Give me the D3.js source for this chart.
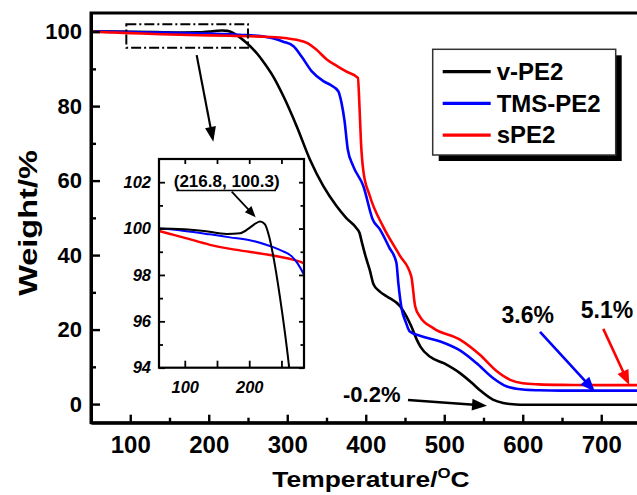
<!DOCTYPE html>
<html>
<head>
<meta charset="utf-8">
<script src="https://cdn.jsdelivr.net/npm/d3@7"></script>
<style>
  html, body { margin: 0; padding: 0; background: #fff; }
  svg text { font-family: Arial, "Liberation Sans", Helvetica, sans-serif; font-weight: bold; fill: #000; }
</style>
</head>
<body>
<svg id="chart" width="637" height="495"></svg>
<script>
// TGA curves: [temperature (°C), weight (%)]
const vPE2 = [[50,100],[60,100],[100,99.97],[130,99.9],[165,99.77],[186,99.8],[201,100.04],[210,100.22],[216.8,100.3],[224,100.2],[231,99.65],[237,98.86],[247.6,97.06],[262,94.0],[270,91.8],[282,88.0],[295,82.7],[312,74.6],[329,65.6],[346,58.5],[363,53.1],[375,50],[388,47.3],[392,46],[395,43.5],[400,39.5],[405,36.1],[410,32.1],[418,30.2],[427,28.9],[444,26.2],[452,23.5],[458,20.9],[465,17.3],[470,15.3],[482,12.7],[500,10.9],[520,8.3],[535,5.7],[545,3.8],[562,1.2],[575,0.3],[584,0.0],[597,-0.2],[650,-0.2],[750,-0.2]];
const tmsPE2 = [[50,100],[60,100],[100,99.9],[139,99.75],[170,99.62],[201,99.5],[232,99.25],[250,99.05],[266,98.8],[275,98.5],[285,98.0],[295,97.3],[308,96.1],[318,93.4],[331,89.4],[346,86.7],[355,85.7],[365,84.0],[369,81],[373,76],[377,68.5],[384,63.9],[397,58.5],[409,49.5],[418,46.9],[430,42],[439,38],[441.5,32.5],[446,25.3],[451,22],[456,19.5],[470,18.3],[495,16.8],[520,14.4],[541,11.0],[562,7.0],[580,4.7],[600,3.9],[620,3.7],[650,3.6],[750,3.6]];
const sPE2 = [[50,100],[60,99.9],[80,99.75],[100,99.6],[139,99.3],[175,99.1],[200,99.0],[232,98.86],[266,98.67],[285,98.5],[300,98.2],[312,97.8],[325,97.0],[337,95.2],[350,92.6],[363,90.8],[375,89.3],[390,87.6],[392,80],[394,70],[397,62.5],[405,56],[422,47.7],[443,40],[458,34.3],[463,26.2],[469,23.5],[486,20.4],[520,17.3],[545,13.3],[567,8.8],[584,6.5],[600,5.6],[620,5.3],[650,5.15],[700,5.1],[750,5.1]];

const seriesNames = ["v-PE2", "TMS-PE2", "sPE2"];
const seriesColors = ["#000000", "#0000ff", "#ff0000"];
const seriesData = [vPE2, tmsPE2, sPE2];

const xTicks = [100, 200, 300, 400, 500, 600, 700];
const xMinorTicks = [150, 250, 350, 450, 550, 650];
const yTicks = [0, 20, 40, 60, 80, 100];
const yMinorTicks = [10, 30, 50, 70, 90];
const insetXTicks = [100, 200];
const insetXMinorTicks = [150, 250];
const insetYTicks = [94, 96, 98, 100, 102];
const insetYMinorTicks = [95, 97, 99, 101];

// residue annotations: label, text anchor point, arrow tail, arrow tip (data units)
const residueNotes = [
  { label: "-0.2%", color: "#000000", text: [371, 0.64], tail: [453.8, 1.1], tip: [554.5, -0.44] },
  { label: "3.6%",  color: "#0000ff", text: [573, 21.7], tail: [622, 19.4], tip: [692, 3.3] },
  { label: "5.1%",  color: "#ff0000", text: [674, 23.0], tail: [702.6, 20.2], tip: [735.7, 5.1] }
];
const peakNote = { label: "(216.8, 100.3)", text: [165, 101.8], underline: [87, 241.5, 101.64], tail: [172.8, 101.59], tip: [210, 100.49] };
const zoomBox = { x0: 95, x1: 250, y0: 95.7, y1: 102 };
const zoomArrow = { tail: [184.6, 93.7], tip: [205.8, 70.4] };

const svg = d3.select("#chart");

// ---------- main plot ----------
const x = d3.scaleLinear().domain([50, 750]).range([91, 640.5]);
const y = d3.scaleLinear().domain([-5, 105]).range([422.7, 13]);

svg.append("defs").append("clipPath").attr("id", "mainClip")
  .append("rect").attr("x", x(50)).attr("y", y(105)).attr("width", x(750) - x(50)).attr("height", y(-5) - y(105));

const line = d3.line().x(d => x(d[0])).y(d => y(d[1])).curve(d3.curveMonotoneX);
const plot = svg.append("g").attr("clip-path", "url(#mainClip)");
seriesData.forEach((s, i) => {
  plot.append("path").datum(s).attr("d", line)
    .attr("fill", "none").attr("stroke", seriesColors[i]).attr("stroke-width", 2.6).attr("stroke-linejoin", "round");
});

// frame
svg.append("rect").attr("x", x(50)).attr("y", y(105)).attr("width", x(750) - x(50)).attr("height", y(-5) - y(105))
  .attr("fill", "none").attr("stroke", "#000").attr("stroke-width", 3);

function styleAxis(g, fontSize) {
  g.select(".domain").attr("stroke-width", 3);
  g.selectAll(".tick line").attr("stroke-width", 2.4);
  g.selectAll(".tick text").attr("font-size", fontSize).attr("font-family", null);
}

const xAxis = svg.append("g").attr("transform", `translate(0,${y(-5)})`)
  .call(d3.axisBottom(x).tickValues(xTicks).tickSize(-8).tickSizeOuter(0).tickPadding(13).tickFormat(d3.format("d")));
styleAxis(xAxis, 24);
svg.append("g").attr("transform", `translate(0,${y(-5)})`)
  .call(d3.axisBottom(x).tickValues(xMinorTicks).tickSize(-5).tickSizeOuter(0).tickFormat(""))
  .call(g => { g.select(".domain").remove(); g.selectAll(".tick line").attr("stroke-width", 2.4); });

const yAxis = svg.append("g").attr("transform", `translate(${x(50)},0)`)
  .call(d3.axisLeft(y).tickValues(yTicks).tickSize(-9).tickSizeOuter(0).tickPadding(9).tickFormat(d3.format("d")));
styleAxis(yAxis, 22);
svg.append("g").attr("transform", `translate(${x(50)},0)`)
  .call(d3.axisLeft(y).tickValues(yMinorTicks).tickSize(-5).tickSizeOuter(0).tickFormat(""))
  .call(g => { g.select(".domain").remove(); g.selectAll(".tick line").attr("stroke-width", 2.4); });

// axis titles
const xTitle = svg.append("text").attr("transform", "translate(371,487) scale(1.2,1)")
  .attr("text-anchor", "middle").attr("font-size", 22);
xTitle.append("tspan").text("Temperature/");
xTitle.append("tspan").attr("font-size", 14).attr("dy", -9).text("O");
xTitle.append("tspan").attr("dy", 9).text("C");

svg.append("text").attr("transform", "translate(37,223) rotate(-90) scale(1.3,1)")
  .attr("text-anchor", "middle").attr("font-size", 25).text("Weight/%");

// dash-dot zoom box and arrow to inset
svg.append("rect")
  .attr("x", x(zoomBox.x0)).attr("y", y(zoomBox.y1))
  .attr("width", x(zoomBox.x1) - x(zoomBox.x0)).attr("height", y(zoomBox.y0) - y(zoomBox.y1))
  .attr("fill", "none").attr("stroke", "#000").attr("stroke-width", 2)
  .attr("stroke-dasharray", "10,3,2,3");

function arrow(g, p0, p1, color, width, headLen, headHalf) {
  const dx = p1[0] - p0[0], dy = p1[1] - p0[1];
  const len = Math.hypot(dx, dy), ux = dx / len, uy = dy / len;
  const bx = p1[0] - ux * headLen, by = p1[1] - uy * headLen;
  g.append("line").attr("x1", p0[0]).attr("y1", p0[1]).attr("x2", bx + ux * 2).attr("y2", by + uy * 2)
    .attr("stroke", color).attr("stroke-width", width);
  g.append("path")
    .attr("d", `M${p1[0]},${p1[1]}L${bx - uy * headHalf},${by + ux * headHalf}L${bx + uy * headHalf},${by - ux * headHalf}Z`)
    .attr("fill", color);
}
const ann = svg.append("g");
arrow(ann, [x(zoomArrow.tail[0]), y(zoomArrow.tail[1])], [x(zoomArrow.tip[0]), y(zoomArrow.tip[1])], "#000", 2.2, 15, 5.5);

// residue notes
residueNotes.forEach(n => {
  ann.append("text").attr("x", x(n.text[0])).attr("y", y(n.text[1]))
    .attr("font-size", n.label === "-0.2%" ? 22 : 23).text(n.label);
  arrow(ann, [x(n.tail[0]), y(n.tail[1])], [x(n.tip[0]), y(n.tip[1])], n.color, 2.6, 15, 6);
});

// ---------- legend ----------
const lg = svg.append("g").attr("transform", "translate(432.7,49.3)");
lg.append("rect").attr("x", 6).attr("y", 6).attr("width", 183).attr("height", 105.7).attr("fill", "#000");
lg.append("rect").attr("width", 183).attr("height", 105.7).attr("fill", "#fff").attr("stroke", "#333").attr("stroke-width", 1.5);
seriesNames.forEach((name, i) => {
  const cy = 22.4 + i * 31.7;
  lg.append("line").attr("x1", 10).attr("x2", 58).attr("y1", cy).attr("y2", cy)
    .attr("stroke", seriesColors[i]).attr("stroke-width", 3.2);
  lg.append("text").attr("x", 64).attr("y", cy + 8.4).attr("font-size", 24).text(name);
});

// ---------- inset ----------
const xi = d3.scaleLinear().domain([60, 285]).range([159, 304]);
const yi = d3.scaleLinear().domain([94, 103]).range([367.7, 159]);
svg.select("defs").append("clipPath").attr("id", "insetClip")
  .append("rect").attr("x", xi(60)).attr("y", yi(103)).attr("width", xi(285) - xi(60)).attr("height", yi(94) - yi(103));

const inset = svg.append("g");
inset.append("rect").attr("x", xi(60)).attr("y", yi(103)).attr("width", xi(285) - xi(60)).attr("height", yi(94) - yi(103))
  .attr("fill", "#fff");
const iline = d3.line().x(d => xi(d[0])).y(d => yi(d[1])).curve(d3.curveMonotoneX);
const iplot = inset.append("g").attr("clip-path", "url(#insetClip)");
[2, 1, 0].forEach(i => {
  iplot.append("path").datum(seriesData[i]).attr("d", iline)
    .attr("fill", "none").attr("stroke", seriesColors[i]).attr("stroke-width", i === 2 ? 2.4 : 2);
});
inset.append("rect").attr("x", xi(60)).attr("y", yi(103)).attr("width", xi(285) - xi(60)).attr("height", yi(94) - yi(103))
  .attr("fill", "none").attr("stroke", "#000").attr("stroke-width", 2.2);

function insetAxis(gen, values, size, fmt, pad) {
  return gen.tickValues(values).tickSize(size).tickSizeOuter(0).tickPadding(pad).tickFormat(fmt);
}
function styleInset(g) {
  g.select(".domain").remove();
  g.selectAll(".tick line").attr("stroke-width", 1.8);
  g.selectAll(".tick text").attr("font-size", 16.5).attr("font-style", "italic").attr("font-family", null);
}
inset.append("g").attr("transform", `translate(${xi(60)},0)`)
  .call(insetAxis(d3.axisLeft(yi), insetYTicks, -6, d3.format("d"), 8)).call(styleInset);
inset.append("g").attr("transform", `translate(${xi(60)},0)`)
  .call(insetAxis(d3.axisLeft(yi), insetYMinorTicks, -4, "", 0)).call(styleInset);
inset.append("g").attr("transform", `translate(${xi(285)},0)`)
  .call(insetAxis(d3.axisRight(yi), insetYTicks, -5, "", 0)).call(styleInset);
inset.append("g").attr("transform", `translate(${xi(285)},0)`)
  .call(insetAxis(d3.axisRight(yi), insetYMinorTicks, -3.5, "", 0)).call(styleInset);
inset.append("g").attr("transform", `translate(0,${yi(94)})`)
  .call(insetAxis(d3.axisBottom(xi), insetXTicks, -7, d3.format("d"), 14)).call(styleInset);
inset.append("g").attr("transform", `translate(0,${yi(94)})`)
  .call(insetAxis(d3.axisBottom(xi), insetXMinorTicks, -7, "", 0)).call(styleInset);
inset.append("g").attr("transform", `translate(0,${yi(103)})`)
  .call(insetAxis(d3.axisTop(xi), insetXTicks.concat(insetXMinorTicks), -5, "", 0)).call(styleInset);

// peak label
inset.append("text").attr("x", xi(peakNote.text[0])).attr("y", yi(peakNote.text[1]))
  .attr("text-anchor", "middle").attr("font-size", 17).text(peakNote.label);
inset.append("line")
  .attr("x1", xi(peakNote.underline[0])).attr("x2", xi(peakNote.underline[1]))
  .attr("y1", yi(peakNote.underline[2])).attr("y2", yi(peakNote.underline[2]))
  .attr("stroke", "#000").attr("stroke-width", 1.5);
arrow(inset, [xi(peakNote.tail[0]), yi(peakNote.tail[1])], [xi(peakNote.tip[0]), yi(peakNote.tip[1])], "#000", 1.8, 11, 4.5);
</script>
</body>
</html>
